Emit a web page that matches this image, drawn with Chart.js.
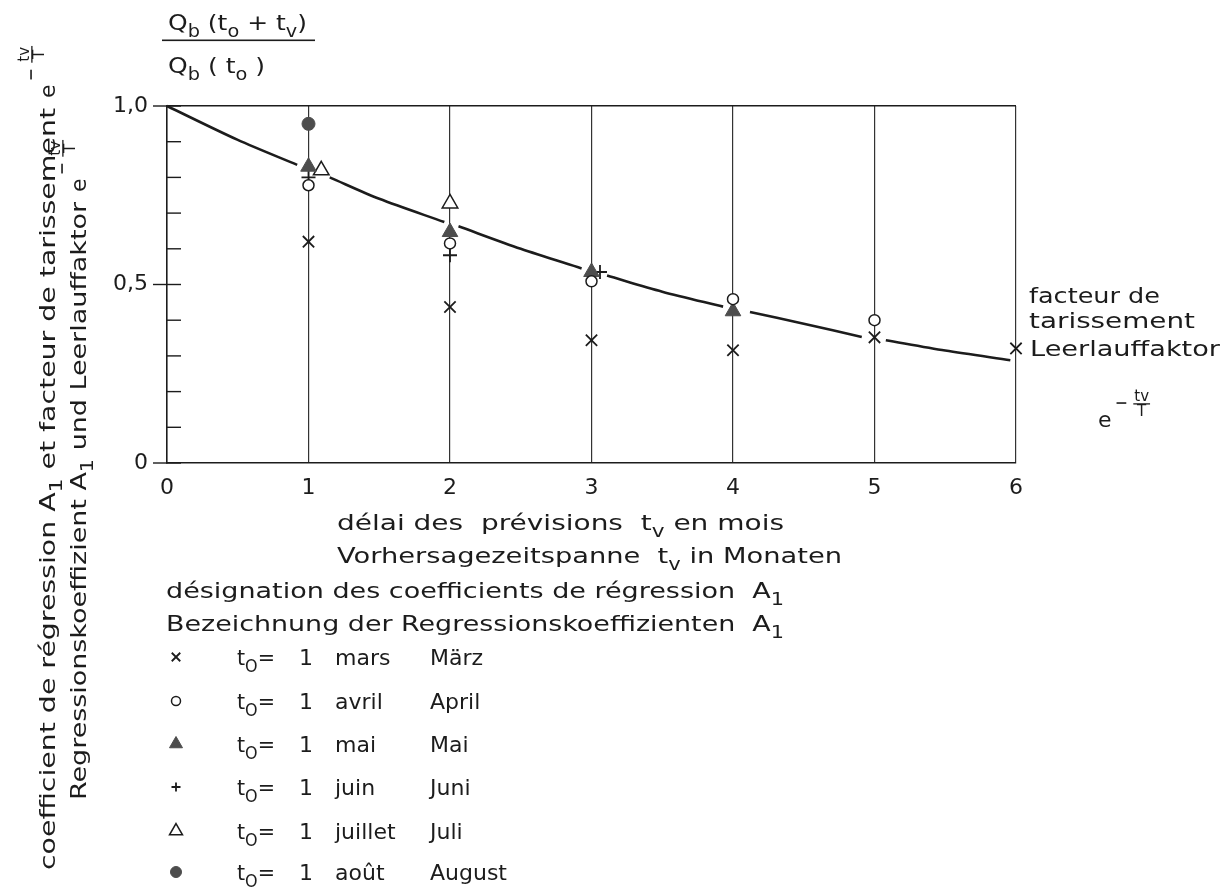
<!DOCTYPE html>
<html>
<head>
<meta charset="utf-8">
<script src="https://cdn.jsdelivr.net/npm/chart.js@4.4.0/dist/chart.umd.min.js"></script>
<style>
body { margin: 0; background: #fff; }
#wrap { width: 1226px; height: 890px; }
</style>
</head>
<body>
<div id="wrap"><canvas id="myChart" width="1226" height="890"></canvas></div>
<script>
// regression coefficient A1 per start date t0, against lead time tv (months)
var marsX = [1, 2, 3, 4, 5, 6];
var marsY = [0.62, 0.437, 0.344, 0.316, 0.352, 0.321];
var avrilX = [1, 2, 3, 4, 5];
var avrilY = [0.778, 0.615, 0.509, 0.459, 0.40];
var maiX = [1, 2, 3, 4];
var maiY = [0.83, 0.647, 0.535, 0.425];
var juinX = [1, 2, 3.06];
var juinY = [0.80, 0.582, 0.535];
var juilletX = [1.09, 2];
var juilletY = [0.82, 0.727];
var aoutX = [1];
var aoutY = [0.95];

// recession factor e^(-tv/T) as drawn (null = break in the drawn line)
var curveX = [0, 0.5, 0.92, 1, 1.15, 1.5, 1.96, 2, 2.06, 2.5, 2.93, 3, 3.11, 3.5, 3.93, 4, 4.12, 4.5, 4.91, 5, 5.08, 5.5, 5.96, 6, 6.03, 6.43];
var curveY = [1.0, 0.905, 0.835, null, 0.80, 0.74, 0.675, null, 0.663, 0.60, 0.545, null, 0.525, 0.48, 0.438, null, 0.423, 0.39, 0.353, null, 0.344, 0.315, 0.288, null, 0.285, 0.269];

var xTickLabels = ['0', '1', '2', '3', '4', '5', '6'];
var yTickValues = [0, 0.5, 1];
var yTickLabels = ['0', '0,5', '1,0'];

var FONT = '"DejaVu Sans"';
var INK = '#1c1c1c';
var GREY = '#4d4d4d';

function pts(xs, ys) {
    var out = [];
    for (var i = 0; i < xs.length; i++) out.push({x: xs[i], y: ys[i]});
    return out;
}

// legend rows: marker options + the two month names
var series = [
    {fr: 'mars',    de: 'M\u00e4rz',  xs: marsX,    ys: marsY,    style: 'crossRot', r: 8,   lr: 6,   bg: INK,    bw: 1.8},
    {fr: 'avril',   de: 'April',      xs: avrilX,   ys: avrilY,   style: 'circle',   r: 5.5, lr: 4.5, bg: '#fff', bw: 1.5},
    {fr: 'mai',     de: 'Mai',        xs: maiX,     ys: maiY,     style: 'triangle', r: 9,   lr: 7.5, bg: GREY,   bw: 1},
    {fr: 'juin',    de: 'Juni',       xs: juinX,    ys: juinY,    style: 'cross',    r: 7,   lr: 4.5, bg: INK,    bw: 1.8},
    {fr: 'juillet', de: 'Juli',       xs: juilletX, ys: juilletY, style: 'triangle', r: 9,   lr: 7.5, bg: '#fff', bw: 1.5},
    {fr: 'ao\u00fbt', de: 'August',   xs: aoutX,    ys: aoutY,    style: 'circle',   r: 6.5, lr: 5.5, bg: GREY,   bw: 1}
];

var datasets = [];
series.forEach(function(s) {
    datasets.push({
        label: s.fr,
        data: pts(s.xs, s.ys),
        showLine: false,
        pointStyle: s.style,
        pointRadius: s.r,
        pointBackgroundColor: s.bg,
        pointBorderColor: s.bg == GREY ? GREY : INK,
        pointBorderWidth: s.bw,
        clip: false
    });
});
datasets.push({
    label: 'Leerlauffaktor',
    data: pts(curveX, curveY),
    showLine: true,
    spanGaps: false,
    pointRadius: 0,
    borderColor: INK,
    borderWidth: 2.6,
    tension: 0.3,
    clip: false
});

// text with _{...} subscripts
function parse(str) {
    var out = [], re = /_\{([^}]*)\}/g, last = 0, m;
    while ((m = re.exec(str))) {
        if (m.index > last) out.push([str.slice(last, m.index), 0]);
        out.push([m[1], 1]);
        last = re.lastIndex;
    }
    if (last < str.length) out.push([str.slice(last), 0]);
    return out;
}

function drawRich(ctx, str, x, y, size, w) {
    var segs = parse(str);
    var natural = 0;
    segs.forEach(function(s) {
        ctx.font = (s[1] ? Math.round(size * 0.75) : size) + 'px ' + FONT;
        natural += ctx.measureText(s[0]).width;
    });
    var sx = w ? w / natural : 1;
    ctx.save();
    ctx.translate(x, y);
    ctx.scale(sx, 1);
    var pen = 0;
    segs.forEach(function(s) {
        ctx.font = (s[1] ? Math.round(size * 0.75) : size) + 'px ' + FONT;
        ctx.fillText(s[0], pen, s[1] ? size * 0.3 : 0);
        pen += ctx.measureText(s[0]).width;
    });
    ctx.restore();
    return natural * sx;
}

// e^(-tv/T) with stacked fraction in the exponent
function drawExp(ctx, x, y, size) {
    ctx.font = size + 'px ' + FONT;
    ctx.fillText('e', x, y);
    var ew = ctx.measureText('e').width;
    var s = Math.round(size * 0.68);
    var bar = y - size * 1.08;
    ctx.fillRect(x + ew + 5, bar - 1, s * 0.65, 1.6);
    var fx = x + ew + 5 + s * 0.65 + 8;
    ctx.font = s + 'px ' + FONT;
    var tw = ctx.measureText('tv').width;
    ctx.fillText('tv', fx, bar - 2.5);
    ctx.fillRect(fx - 1, bar, tw + 2, 1.3);
    ctx.fillText('T', fx + (tw - ctx.measureText('T').width) / 2, bar + s * 0.75 + 2);
}

var annotate = {
    id: 'annotate',
    afterDraw: function(chart) {
        var ctx = chart.ctx;
        var xs = chart.scales.x, ys = chart.scales.y;
        ctx.save();
        ctx.fillStyle = INK;
        ctx.strokeStyle = INK;
        ctx.textBaseline = 'alphabetic';
        ctx.textAlign = 'left';

        // y tick marks: major ones cross the axis, minor ones point inward
        ctx.lineWidth = 1.4;
        ys.ticks.forEach(function(t) {
            var py = ys.getPixelForValue(t.value);
            var major = yTickValues.some(function(v) { return Math.abs(v - t.value) < 1e-6; });
            ctx.beginPath();
            ctx.moveTo(xs.left - (major ? 14 : 0), py);
            ctx.lineTo(xs.left + 14, py);
            ctx.stroke();
        });

        // quantity on the y axis, as a fraction
        drawRich(ctx, 'Q_{b} (t_{o} + t_{v})', 168, 30, 22, 139);
        ctx.fillRect(162, 39.5, 153, 1.6);
        drawRich(ctx, 'Q_{b} ( t_{o} )', 168, 73, 22, 97);

        // rotated y title, two languages
        ctx.save();
        ctx.translate(55, 870);
        ctx.rotate(-Math.PI / 2);
        var w1 = drawRich(ctx, 'coefficient de r\u00e9gression A_{1} et facteur de tarissement', 0, 0, 22, 762);
        drawExp(ctx, w1 + 10, 0, 22);
        ctx.restore();
        ctx.save();
        ctx.translate(86, 800);
        ctx.rotate(-Math.PI / 2);
        var w2 = drawRich(ctx, 'Regressionskoeffizient A_{1} und Leerlauffaktor', 0, 0, 22, 598);
        drawExp(ctx, w2 + 10, 0, 22);
        ctx.restore();

        // x title
        drawRich(ctx, 'd\u00e9lai des  pr\u00e9visions  t_{v} en mois', 337, 530, 22, 447);
        drawRich(ctx, 'Vorhersagezeitspanne  t_{v} in Monaten', 337, 563, 22, 505);

        // curve label on the right
        drawRich(ctx, 'facteur de', 1029, 303, 22, 131);
        drawRich(ctx, 'tarissement', 1029, 328, 22, 166);
        drawRich(ctx, 'Leerlauffaktor', 1030, 356, 22, 190);
        drawExp(ctx, 1098, 427, 22);

        // legend
        drawRich(ctx, 'd\u00e9signation des coefficients de r\u00e9gression  A_{1}', 166, 598, 22, 618);
        drawRich(ctx, 'Bezeichnung der Regressionskoeffizienten  A_{1}', 166, 631, 22, 618);
        var rowY = [657, 701, 744, 787, 831, 872];
        series.forEach(function(s, i) {
            var yc = rowY[i];
            ctx.fillStyle = s.bg;
            ctx.strokeStyle = s.bg == GREY ? GREY : INK;
            ctx.lineWidth = s.bw;
            Chart.helpers.drawPoint(ctx, {pointStyle: s.style, radius: s.lr, borderWidth: s.bw, rotation: 0}, 176, yc);
            ctx.fillStyle = INK;
            drawRich(ctx, 't_{O}=', 237, yc + 8, 22, 38);
            drawRich(ctx, '1', 299, yc + 8, 22);
            drawRich(ctx, s.fr, 335, yc + 8, 22);
            drawRich(ctx, s.de, 430, yc + 8, 22);
        });
        ctx.restore();
    }
};

var config = {
    type: 'scatter',
    data: {datasets: datasets},
    options: {
        responsive: false,
        animation: false,
        events: [],
        devicePixelRatio: 1,
        layout: {padding: {top: 106, right: 210, bottom: 387, left: 0}},
        plugins: {legend: {display: false}, tooltip: {enabled: false}},
        scales: {
            x: {
                type: 'linear',
                min: 0,
                max: 6,
                afterFit: function(scale) { scale.height = 40; },
                ticks: {
                    stepSize: 1,
                    padding: 12,
                    color: INK,
                    font: {family: FONT, size: 22},
                    callback: function(v) { return xTickLabels[v]; }
                },
                grid: {
                    drawTicks: false,
                    lineWidth: 1.2,
                    color: function(c) { return c.tick && c.tick.value > 0 ? '#333' : 'rgba(0,0,0,0)'; }
                },
                border: {display: true, color: INK, width: 1.6}
            },
            y: {
                min: 0,
                max: 1,
                afterFit: function(scale) { scale.width = 167; },
                ticks: {
                    stepSize: 0.1,
                    padding: 19,
                    color: INK,
                    font: {family: FONT, size: 22},
                    callback: function(v) {
                        for (var i = 0; i < yTickValues.length; i++) {
                            if (Math.abs(yTickValues[i] - v) < 1e-6) return yTickLabels[i];
                        }
                        return '';
                    }
                },
                grid: {
                    drawTicks: false,
                    lineWidth: 1.4,
                    color: function(c) { return c.tick && Math.abs(c.tick.value - 1) < 1e-6 ? INK : 'rgba(0,0,0,0)'; }
                },
                border: {display: true, color: INK, width: 1.6}
            }
        }
    },
    plugins: [annotate]
};

window.onload = function() {
    var ctx = document.getElementById('myChart').getContext('2d');
    window.myScatter = new Chart(ctx, config);
};
</script>
</body>
</html>
